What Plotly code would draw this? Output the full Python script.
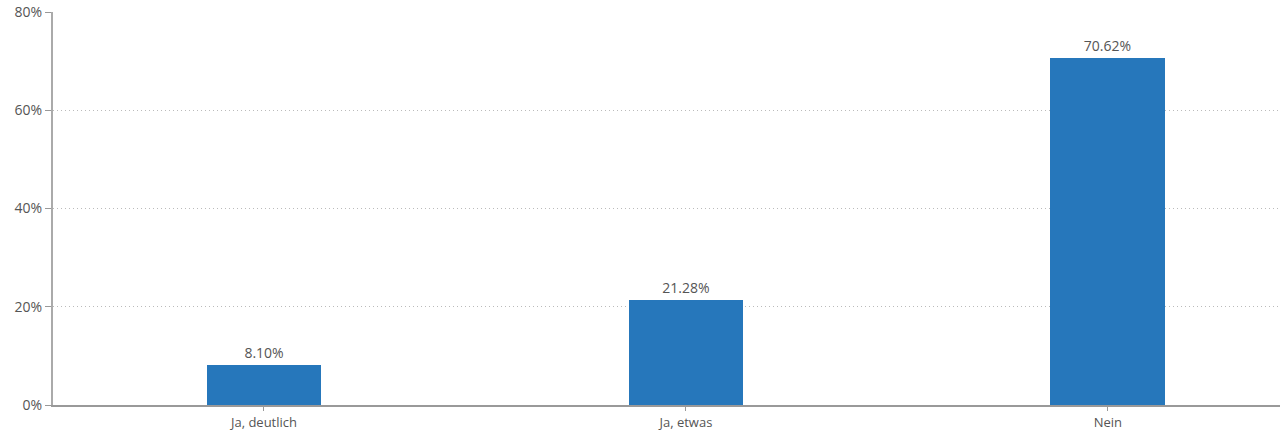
import plotly.graph_objects as go

categories = ["Ja, deutlich", "Ja, etwas", "Nein"]
values = [8.10, 21.28, 70.62]
labels = ["8.10%", "21.28%", "70.62%"]
tick_vals = [0, 20, 40, 60, 80]
tick_text = ["0%", "20%", "40%", "60%", "80%"]

fig = go.Figure(go.Bar(
    x=categories, y=values, text=labels, textposition="outside",
    textfont=dict(family="Open Sans", size=14, color="#555"),
    marker=dict(color="#2677bb", line=dict(width=0)),
    width=0.272, cliponaxis=False,
))

fig.update_layout(
    width=1282, height=430,
    margin=dict(l=53, r=2, t=12, b=25, autoexpand=False),
    plot_bgcolor="white", paper_bgcolor="white",
    font=dict(family="Open Sans", size=13, color="#555"),
    showlegend=False,
    bargap=0,
)
fig.update_xaxes(
    range=[-0.5, 2.408], showline=True, linecolor="#999", linewidth=2,
    ticks="outside", ticklen=4, tickcolor="#999", showgrid=False,
    tickfont=dict(size=13, color="#555"), automargin=False,
)
fig.update_yaxes(
    range=[0, 80], tickvals=tick_vals, ticktext=tick_text,
    showline=True, linecolor="#aaa", linewidth=2,
    ticks="outside", ticklen=6, tickcolor="#999",
    showgrid=True, gridcolor="#bbb", griddash="1px,3px", gridwidth=1,
    zeroline=False, tickfont=dict(size=14, color="#555"), automargin=False,
)

fig.write_html(
    "out.html",
    config={"displayModeBar": False},
    post_script="document.body.style.margin='0';document.body.style.overflow='hidden';",
)
